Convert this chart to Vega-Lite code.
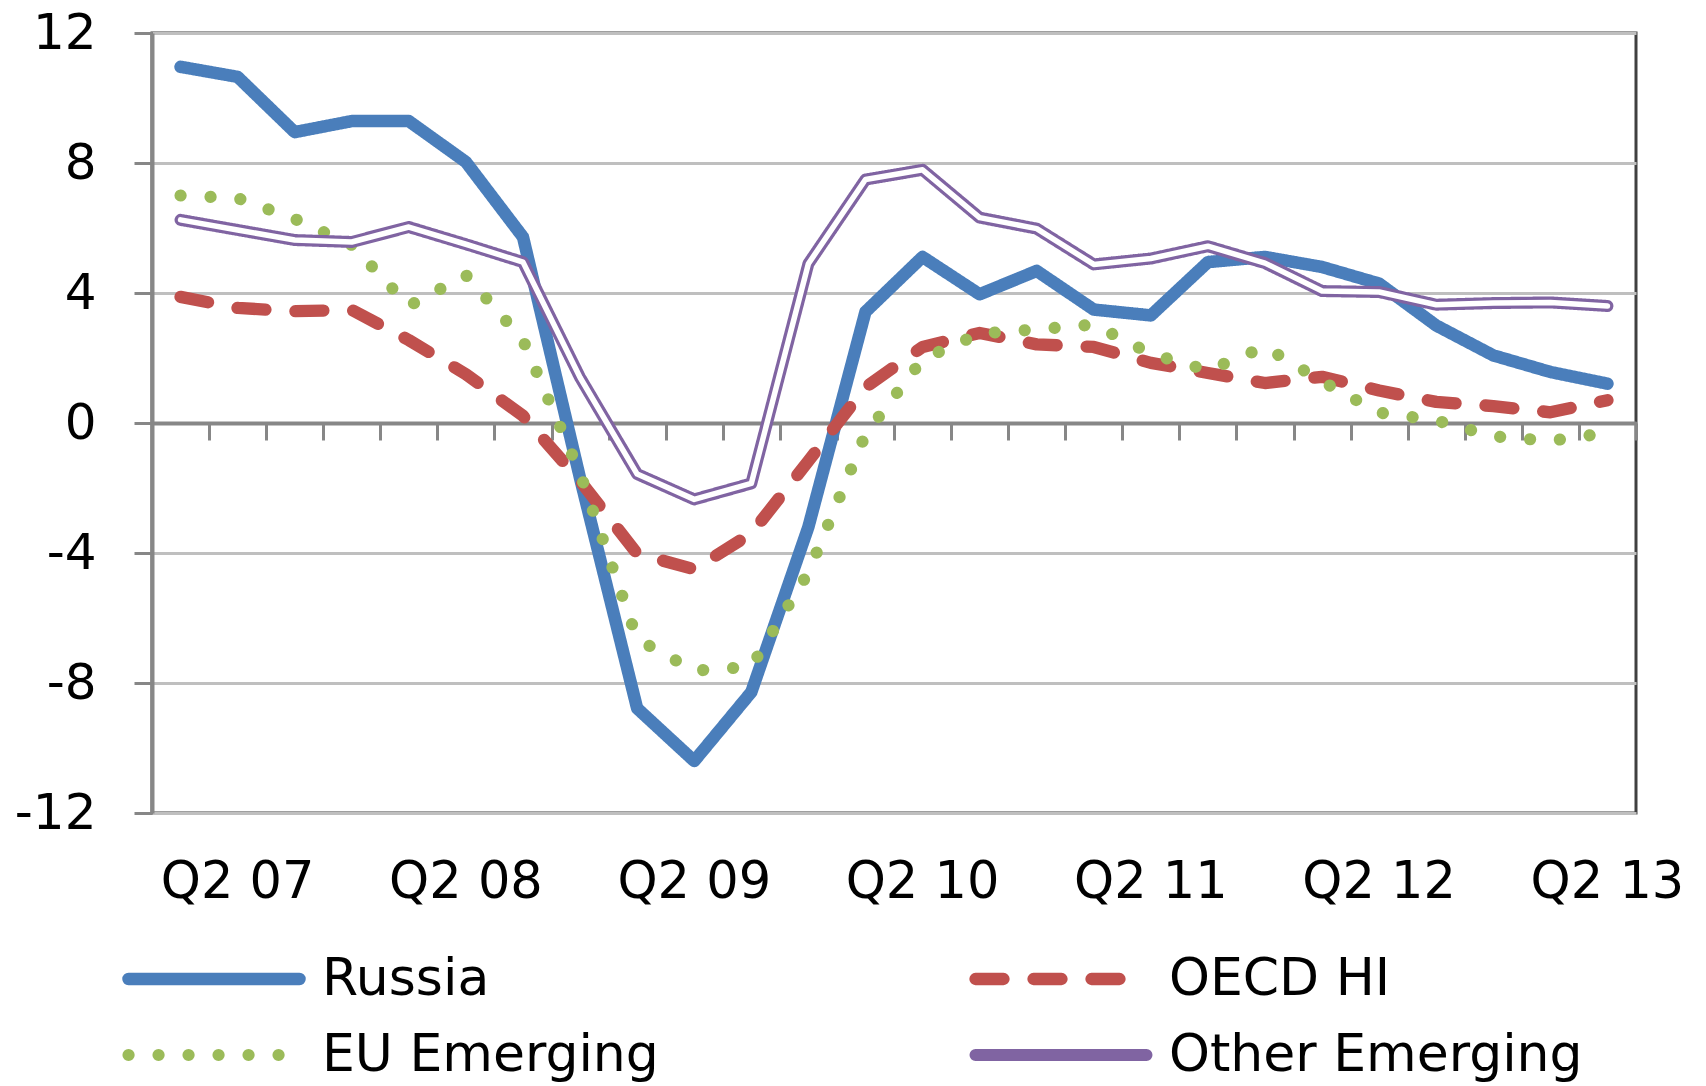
{
  "$schema": "https://vega.github.io/schema/vega-lite/v6.json",
  "width": 1484,
  "height": 780,
  "autosize": {"type": "none"},
  "padding": {"left": 152, "top": 33, "right": 70, "bottom": 273},
  "background": "white",
  "config": {
    "view": {"stroke": "#404040", "strokeWidth": 3},
    "font": "DejaVu Sans"
  },
  "datasets": {
    "growth": [
      {"q":"Q1 07","series":"Russia","v":10.96},{"q":"Q2 07","series":"Russia","v":10.65},{"q":"Q3 07","series":"Russia","v":8.95},{"q":"Q4 07","series":"Russia","v":9.29},
      {"q":"Q1 08","series":"Russia","v":9.29},{"q":"Q2 08","series":"Russia","v":8.03},{"q":"Q3 08","series":"Russia","v":5.72},{"q":"Q4 08","series":"Russia","v":-1.7},
      {"q":"Q1 09","series":"Russia","v":-8.78},{"q":"Q2 09","series":"Russia","v":-10.4},{"q":"Q3 09","series":"Russia","v":-8.28},{"q":"Q4 09","series":"Russia","v":-3.2},
      {"q":"Q1 10","series":"Russia","v":3.42},{"q":"Q2 10","series":"Russia","v":5.11},{"q":"Q3 10","series":"Russia","v":3.96},{"q":"Q4 10","series":"Russia","v":4.68},
      {"q":"Q1 11","series":"Russia","v":3.49},{"q":"Q2 11","series":"Russia","v":3.31},{"q":"Q3 11","series":"Russia","v":4.95},{"q":"Q4 11","series":"Russia","v":5.11},
      {"q":"Q1 12","series":"Russia","v":4.8},{"q":"Q2 12","series":"Russia","v":4.29},{"q":"Q3 12","series":"Russia","v":3.0},{"q":"Q4 12","series":"Russia","v":2.08},
      {"q":"Q1 13","series":"Russia","v":1.57},{"q":"Q2 13","series":"Russia","v":1.21},

      {"q":"Q1 07","series":"OECD HI","v":3.88},{"q":"Q2 07","series":"OECD HI","v":3.54},{"q":"Q3 07","series":"OECD HI","v":3.44},{"q":"Q4 07","series":"OECD HI","v":3.48},
      {"q":"Q1 08","series":"OECD HI","v":2.55},{"q":"Q2 08","series":"OECD HI","v":1.5},{"q":"Q3 08","series":"OECD HI","v":0.22},{"q":"Q4 08","series":"OECD HI","v":-1.78},
      {"q":"Q1 09","series":"OECD HI","v":-4.02},{"q":"Q2 09","series":"OECD HI","v":-4.5},{"q":"Q3 09","series":"OECD HI","v":-3.4},{"q":"Q4 09","series":"OECD HI","v":-1.17},
      {"q":"Q1 10","series":"OECD HI","v":1.1},{"q":"Q2 10","series":"OECD HI","v":2.34},{"q":"Q3 10","series":"OECD HI","v":2.77},{"q":"Q4 10","series":"OECD HI","v":2.42},
      {"q":"Q1 11","series":"OECD HI","v":2.34},{"q":"Q2 11","series":"OECD HI","v":1.85},{"q":"Q3 11","series":"OECD HI","v":1.54},{"q":"Q4 11","series":"OECD HI","v":1.23},
      {"q":"Q1 12","series":"OECD HI","v":1.42},{"q":"Q2 12","series":"OECD HI","v":1.0},{"q":"Q3 12","series":"OECD HI","v":0.65},{"q":"Q4 12","series":"OECD HI","v":0.52},
      {"q":"Q1 13","series":"OECD HI","v":0.33},{"q":"Q2 13","series":"OECD HI","v":0.7},

      {"q":"Q1 07","series":"EU Emerging","v":7.0},{"q":"Q2 07","series":"EU Emerging","v":6.92},{"q":"Q3 07","series":"EU Emerging","v":6.28},{"q":"Q4 07","series":"EU Emerging","v":5.48},
      {"q":"Q1 08","series":"EU Emerging","v":3.6},{"q":"Q2 08","series":"EU Emerging","v":4.55},{"q":"Q3 08","series":"EU Emerging","v":2.55},{"q":"Q4 08","series":"EU Emerging","v":-1.55},
      {"q":"Q1 09","series":"EU Emerging","v":-6.65},{"q":"Q2 09","series":"EU Emerging","v":-7.62},{"q":"Q3 09","series":"EU Emerging","v":-7.5},{"q":"Q4 09","series":"EU Emerging","v":-4.6},
      {"q":"Q1 10","series":"EU Emerging","v":-0.35},{"q":"Q2 10","series":"EU Emerging","v":1.96},{"q":"Q3 10","series":"EU Emerging","v":2.75},{"q":"Q4 10","series":"EU Emerging","v":2.88},
      {"q":"Q1 11","series":"EU Emerging","v":3.03},{"q":"Q2 11","series":"EU Emerging","v":2.13},{"q":"Q3 11","series":"EU Emerging","v":1.62},{"q":"Q4 11","series":"EU Emerging","v":2.34},
      {"q":"Q1 12","series":"EU Emerging","v":1.28},{"q":"Q2 12","series":"EU Emerging","v":0.32},{"q":"Q3 12","series":"EU Emerging","v":0.08},{"q":"Q4 12","series":"EU Emerging","v":-0.41},
      {"q":"Q1 13","series":"EU Emerging","v":-0.55},{"q":"Q2 13","series":"EU Emerging","v":-0.3},

      {"q":"Q1 07","series":"Other Emerging","v":6.25},{"q":"Q2 07","series":"Other Emerging","v":5.94},{"q":"Q3 07","series":"Other Emerging","v":5.63},{"q":"Q4 07","series":"Other Emerging","v":5.57},
      {"q":"Q1 08","series":"Other Emerging","v":6.03},{"q":"Q2 08","series":"Other Emerging","v":5.5},{"q":"Q3 08","series":"Other Emerging","v":4.95},{"q":"Q4 08","series":"Other Emerging","v":1.4},
      {"q":"Q1 09","series":"Other Emerging","v":-1.57},{"q":"Q2 09","series":"Other Emerging","v":-2.35},{"q":"Q3 09","series":"Other Emerging","v":-1.86},{"q":"Q4 09","series":"Other Emerging","v":4.9},
      {"q":"Q1 10","series":"Other Emerging","v":7.49},{"q":"Q2 10","series":"Other Emerging","v":7.79},{"q":"Q3 10","series":"Other Emerging","v":6.32},{"q":"Q4 10","series":"Other Emerging","v":5.98},
      {"q":"Q1 11","series":"Other Emerging","v":4.88},{"q":"Q2 11","series":"Other Emerging","v":5.06},{"q":"Q3 11","series":"Other Emerging","v":5.44},{"q":"Q4 11","series":"Other Emerging","v":4.92},
      {"q":"Q1 12","series":"Other Emerging","v":4.06},{"q":"Q2 12","series":"Other Emerging","v":4.03},{"q":"Q3 12","series":"Other Emerging","v":3.64},{"q":"Q4 12","series":"Other Emerging","v":3.69},
      {"q":"Q1 13","series":"Other Emerging","v":3.71},{"q":"Q2 13","series":"Other Emerging","v":3.6}
    ]
  },
  "data": {"name": "growth"},
  "layer": [
    {
      "mark": {"type": "line", "strokeCap": "round", "strokeJoin": "round"},
      "encoding": {
        "x": {
          "field": "q", "type": "ordinal", "bandPosition": 0.5,
          "scale": {
            "type": "band", "paddingInner": 0, "paddingOuter": 0,
            "domain": ["Q1 07","Q2 07","Q3 07","Q4 07","Q1 08","Q2 08","Q3 08","Q4 08","Q1 09","Q2 09","Q3 09","Q4 09","Q1 10","Q2 10","Q3 10","Q4 10","Q1 11","Q2 11","Q3 11","Q4 11","Q1 12","Q2 12","Q3 12","Q4 12","Q1 13","Q2 13"]
          },
          "axis": {
            "orient": "bottom", "title": null, "domain": false, "ticks": false, "grid": false,
            "labelExpr": "indexof(datum.label, 'Q2') == 0 ? datum.label : ''",
            "labelFont": "DejaVu Sans", "labelFontSize": 51, "labelColor": "#000000",
            "labelPadding": 44, "labelAngle": 0, "labelLimit": 0, "labelOverlap": false
          }
        },
        "y": {
          "field": "v", "type": "quantitative",
          "scale": {"domain": [-12, 12], "nice": false, "zero": false},
          "axis": {
            "title": null, "values": [-12, -8, -4, 0, 4, 8, 12],
            "labelExpr": "datum.value < 0 ? '-' + abs(datum.value) : '' + datum.value",
            "tickSize": 18, "tickWidth": 3, "tickColor": "#878787",
            "domainColor": "#878787", "domainWidth": 4,
            "grid": true, "gridColor": "#BFBFBF", "gridWidth": 3,
            "labelFont": "DejaVu Sans", "labelFontSize": 50, "labelColor": "#000000", "labelPadding": 38
          }
        },
        "color": {
          "field": "series", "type": "nominal",
          "scale": {
            "domain": ["Russia", "OECD HI", "EU Emerging", "Other Emerging"],
            "range": ["#4A7EBB", "#C0504D", "#9BBB59", "#8064A2"]
          },
          "legend": {
            "title": null, "orient": "none", "legendX": 36, "legendY": 920,
            "direction": "horizontal", "columns": 2, "columnPadding": 291, "rowPadding": 24,
            "padding": 0, "symbolType": "M-8.55,0H8.55", "symbolSize": 400, "symbolStrokeWidth": 13,
            "labelOffset": 82, "labelFont": "DejaVu Sans", "labelFontSize": 52, "labelColor": "#000000",
            "labelLimit": 0,
            "encode": {"symbols": {"update": {"strokeCap": {"value": "round"}}}}
          }
        },
        "strokeDash": {
          "field": "series", "type": "nominal",
          "scale": {
            "domain": ["Russia", "OECD HI", "EU Emerging", "Other Emerging"],
            "range": [[1, 0], [28, 30], [0.1, 29.9], [1, 0]]
          }
        },
        "strokeWidth": {
          "field": "series", "type": "nominal",
          "scale": {
            "domain": ["Russia", "OECD HI", "EU Emerging", "Other Emerging"],
            "range": [12.5, 12, 15.5, 13]
          },
          "legend": null
        }
      }
    },
    {
      "transform": [{"filter": "datum.series == 'Other Emerging'"}],
      "mark": {"type": "line", "color": "#FFFFFF", "strokeWidth": 5.5, "strokeCap": "round", "strokeJoin": "round"},
      "encoding": {
        "x": {
          "field": "q", "type": "ordinal", "bandPosition": 0.5,
          "axis": {
            "orient": "bottom", "offset": -390, "title": null, "labels": false,
            "domain": true, "domainColor": "#878787", "domainWidth": 4,
            "ticks": true, "tickBand": "extent", "tickSize": 17, "tickWidth": 3, "tickColor": "#878787",
            "grid": false
          }
        },
        "y": {"field": "v", "type": "quantitative"}
      }
    }
  ],
  "resolve": {"axis": {"x": "independent"}}
}
